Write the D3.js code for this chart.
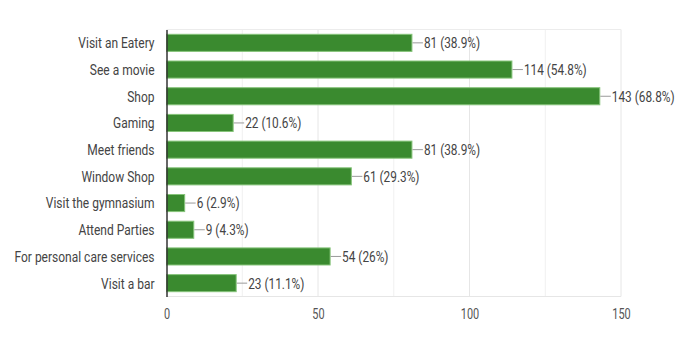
<!DOCTYPE html>
<html>
<head>
<meta charset="utf-8">
<script src="https://cdn.jsdelivr.net/npm/d3@7"></script>
<style>
  body { margin: 0; background: #fff; }
  svg text { font-family: Roboto, Arial, sans-serif; }
</style>
</head>
<body>
<svg id="chart" width="689" height="351"></svg>
<script>
const categories = [
  'Visit an Eatery', 'See a movie', 'Shop', 'Gaming', 'Meet friends',
  'Window Shop', 'Visit the gymnasium', 'Attend Parties',
  'For personal care services', 'Visit a bar',
]
const counts = [81, 114, 143, 22, 81, 61, 6, 9, 54, 23]
const percents = ['38.9%', '54.8%', '68.8%', '10.6%', '38.9%', '29.3%', '2.9%', '4.3%', '26%', '11.1%']
const majorTicks = [0, 50, 100, 150]
const gridTicks = [25, 50, 75, 100, 125, 150]

const data = categories.map((c, i) => ({cat: c, value: counts[i], pct: percents[i]}))

const svg = d3.select('#chart')
const margin = {top: 29.5, right: 68, bottom: 54.5, left: 166.5}
const width = 689 - margin.left - margin.right
const height = 351 - margin.top - margin.bottom

// the source text is narrow, so squeeze glyphs horizontally around their anchor
function squeeze(sel, s) {
  sel.attr('transform', function() {
    const ax = +this.getAttribute('x') || 0
    return `translate(${ax}, 0) scale(${s}, 1) translate(${-ax}, 0)`
  })
}

const g = svg.append('g').attr('transform', `translate(${margin.left}, ${margin.top})`)

const x = d3.scaleLinear().domain([0, 150]).range([0, width])
const y = d3.scaleBand().domain(categories).range([0, height]).paddingInner(0.36).paddingOuter(0.18)

// grid
g.selectAll('.grid')
  .data(gridTicks)
  .enter().append('line')
  .attr('class', 'grid')
  .attr('x1', d => x(d)).attr('x2', d => x(d))
  .attr('y1', 0).attr('y2', height)
  .attr('stroke', d => d % 50 === 0 ? '#e6e6e6' : '#f0f0f0')
  .attr('stroke-width', 1)

g.append('line').attr('x1', 0).attr('x2', width).attr('y1', 0).attr('y2', 0).attr('stroke', '#ececec')
g.append('line').attr('x1', 0).attr('x2', width).attr('y1', height).attr('y2', height).attr('stroke', '#e6e6e6')

// bars
g.selectAll('.bar')
  .data(data)
  .enter().append('rect')
  .attr('class', 'bar')
  .attr('x', 0)
  .attr('y', d => y(d.cat))
  .attr('width', d => x(d.value))
  .attr('height', y.bandwidth())
  .attr('fill', '#3a8a2f')
  .attr('stroke', '#86c47a')
  .attr('stroke-width', 1)

// leader lines + value labels
g.selectAll('.leader')
  .data(data)
  .enter().append('line')
  .attr('x1', d => x(d.value) + 0.5)
  .attr('x2', d => x(d.value) + 11)
  .attr('y1', d => y(d.cat) + y.bandwidth() / 2)
  .attr('y2', d => y(d.cat) + y.bandwidth() / 2)
  .attr('stroke', '#9a9a9a')

g.selectAll('.vlabel')
  .data(data)
  .enter().append('text')
  .attr('class', 'vlabel')
  .attr('x', d => x(d.value) + 12)
  .attr('y', d => y(d.cat) + y.bandwidth() / 2)
  .attr('dy', '0.36em')
  .attr('font-size', 15)
  .attr('fill', '#444')
  .text(d => `${d.value} (${d.pct})`)
  .call(squeeze, 0.79)

// y axis
const yAxis = g.append('g').call(d3.axisLeft(y).tickSize(0).tickPadding(12))
yAxis.select('.domain').attr('stroke', '#333').attr('stroke-width', 1.5)
yAxis.selectAll('text').attr('font-size', 15).attr('fill', '#444')
  .style('font-family', 'Roboto, Arial, sans-serif')
  .attr('dy', '0.36em')
  .call(squeeze, 0.8)

// x axis labels
const xAxis = g.append('g').attr('transform', `translate(0, ${height})`)
  .call(d3.axisBottom(x).tickValues(majorTicks).tickSize(0).tickPadding(13))
xAxis.select('.domain').remove()
xAxis.selectAll('text').attr('font-size', 14).attr('fill', '#555')
  .style('font-family', 'Roboto, Arial, sans-serif')
  .attr('transform', 'scale(0.78, 1)')
</script>
</body>
</html>
